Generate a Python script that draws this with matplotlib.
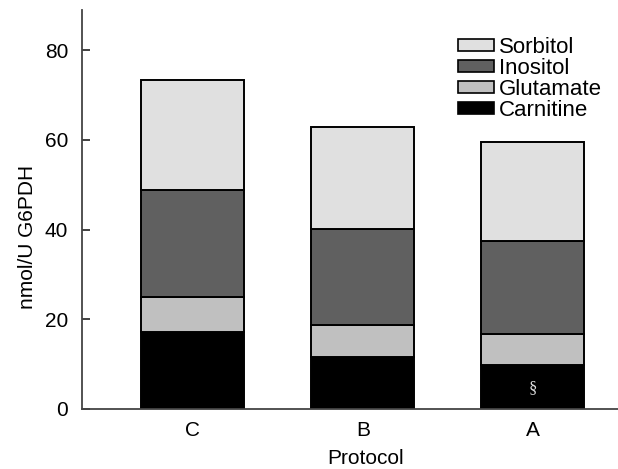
import matplotlib
matplotlib.use("Agg")
import matplotlib.pyplot as plt
import numpy as np

protocols = ["C", "B", "A"]
carnitine = [17.1, 11.6, 9.9]
glutamate = [7.9, 7.1, 6.8]
inositol = [23.9, 21.4, 20.8]
sorbitol = [24.4, 22.8, 22.0]
series_names = ["Carnitine", "Glutamate", "Inositol", "Sorbitol"]
series_colors = ["#000000", "#c0c0c0", "#606060", "#e0e0e0"]
yticks = [0, 20, 40, 60, 80]

plt.rcParams['font.family'] = ['Liberation Sans', 'DejaVu Sans']

fig = plt.figure(figsize=(6.18, 4.69), dpi=100)
ax = fig.add_axes([0.133, 0.128, 0.867, 0.851])

x = np.arange(len(protocols))
bottom = np.zeros(len(protocols))
handles = []
for name, vals, col in zip(series_names, [carnitine, glutamate, inositol, sorbitol], series_colors):
    h = ax.bar(x, vals, width=0.606, bottom=bottom, color=col, edgecolor="black",
               linewidth=1.4, label=name, zorder=2)
    handles.append(h)
    bottom += np.array(vals)

# significance marker in A carnitine
ax.text(2, carnitine[2] * 0.47, "§", color="#dddddd", ha="center", va="center",
        fontsize=12, family="Liberation Serif", zorder=3)

ax.set_xlim(-0.65, 2.5)
ax.set_ylim(0, 89)
ax.set_xticks(x)
ax.set_xticklabels(protocols, fontsize=15)
ax.set_yticks(yticks)
ax.set_yticklabels([str(t) for t in yticks], fontsize=15)
ax.tick_params(axis='x', length=0, pad=9)
ax.tick_params(axis='y', direction='in', length=6, width=1.3, color="#333333", pad=10)
for s in ["top", "right"]:
    ax.spines[s].set_visible(False)
for s in ["left", "bottom"]:
    ax.spines[s].set_color("#444444")
    ax.spines[s].set_linewidth(1.3)

ax.set_xlabel("Protocol", fontsize=15)
ax.set_ylabel("nmol/U G6PDH", fontsize=15)
ax.xaxis.set_label_coords(0.529, -0.1)
ax.yaxis.set_label_coords(-0.085, 0.43)

leg = fig.legend(handles[::-1], series_names[::-1], loc="upper right",
                 bbox_to_anchor=(602 / 618, 1 - 37 / 469), frameon=False, fontsize=16,
                 handlelength=1.62, handleheight=0.5, handletextpad=0.22,
                 labelspacing=0.0, borderaxespad=0.0, borderpad=0.0)
for p in leg.get_patches():
    p.set_linewidth(1.2)

fig.savefig("out.png", dpi=100)
